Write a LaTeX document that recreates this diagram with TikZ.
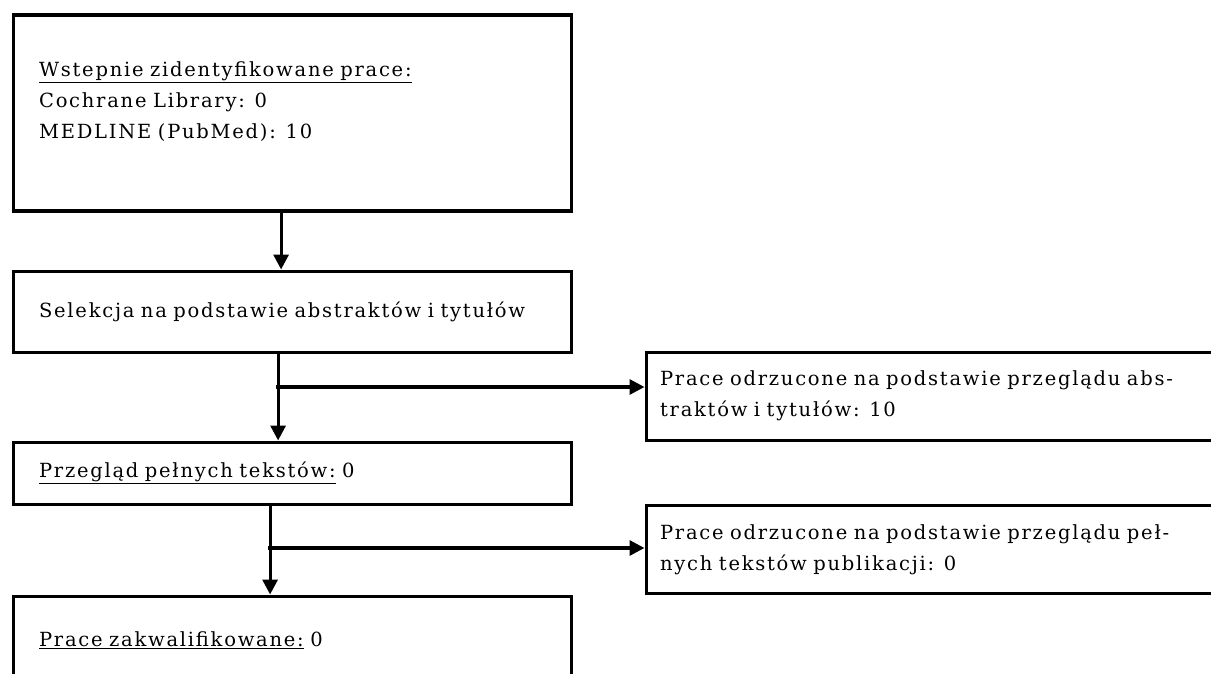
\documentclass[tikz,border=0pt]{standalone}
\usepackage{fontspec}
\setmainfont{DejaVu Serif}[LetterSpace=9]
\usetikzlibrary{arrows.meta}

\begin{document}
\begin{tikzpicture}[x=1pt,y=-1pt,
        main/.style = {draw, rectangle, line width=3.2pt, anchor=north west, align=left,
                inner xsep=26pt, inner ysep=0pt, text width=506pt, minimum width=558pt,
                font=\fontsize{19.5}{31}\selectfont},
        side/.style = {main, inner xsep=14pt, text width=562pt, minimum width=590pt},
        ->/.style = {line width=3.2pt, -{Triangle[length=15pt,width=15pt]}}]
        \useasboundingbox (0,0) rectangle (1211,674);
        \clip (0,0) rectangle (1211,674);
        \node[main, minimum height=196pt, text depth=89pt] (1) at (11.5,13.5) {\underline{Wstepnie zidentyfikowane prace:}\\Cochrane Library: 0\\MEDLINE (PubMed): 10};
        \node[main, minimum height=81pt] (2) at (11.5,269.5) {Selekcja na podstawie abstraktów i tytułów};
        \node[main, minimum height=62pt] (3) at (11.5,440.5) {\underline{Przegląd pełnych tekstów:} 0};
        \node[main, minimum height=88pt] (4) at (11.5,594.5) {\underline{Prace zakwalifikowane:} 0};
        \node[side, minimum height=88pt] (5) at (644.5,350.5) {Prace odrzucone na podstawie przeglądu abs-\\traktów i tytułów: 10};
        \node[side, minimum height=88pt] (6) at (644.5,504) {Prace odrzucone na podstawie przeglądu peł-\\nych tekstów publikacji: 0};
        \coordinate (s1) at (276,387);
        \coordinate (s2) at (268,548);
        \draw[->] ([xshift=-11pt]1.south) -- ([xshift=-11pt]2.north);
        \draw[->] ([xshift=-14pt]2.south) -- ([xshift=-14pt]3.north);
        \draw[->] ([xshift=-22pt]3.south) -- ([xshift=-22pt]4.north);
        \draw[->] (s1) -- (s1 -| 5.west);
        \draw[->] (s2) -- (s2 -| 6.west);
\end{tikzpicture}
\end{document}
